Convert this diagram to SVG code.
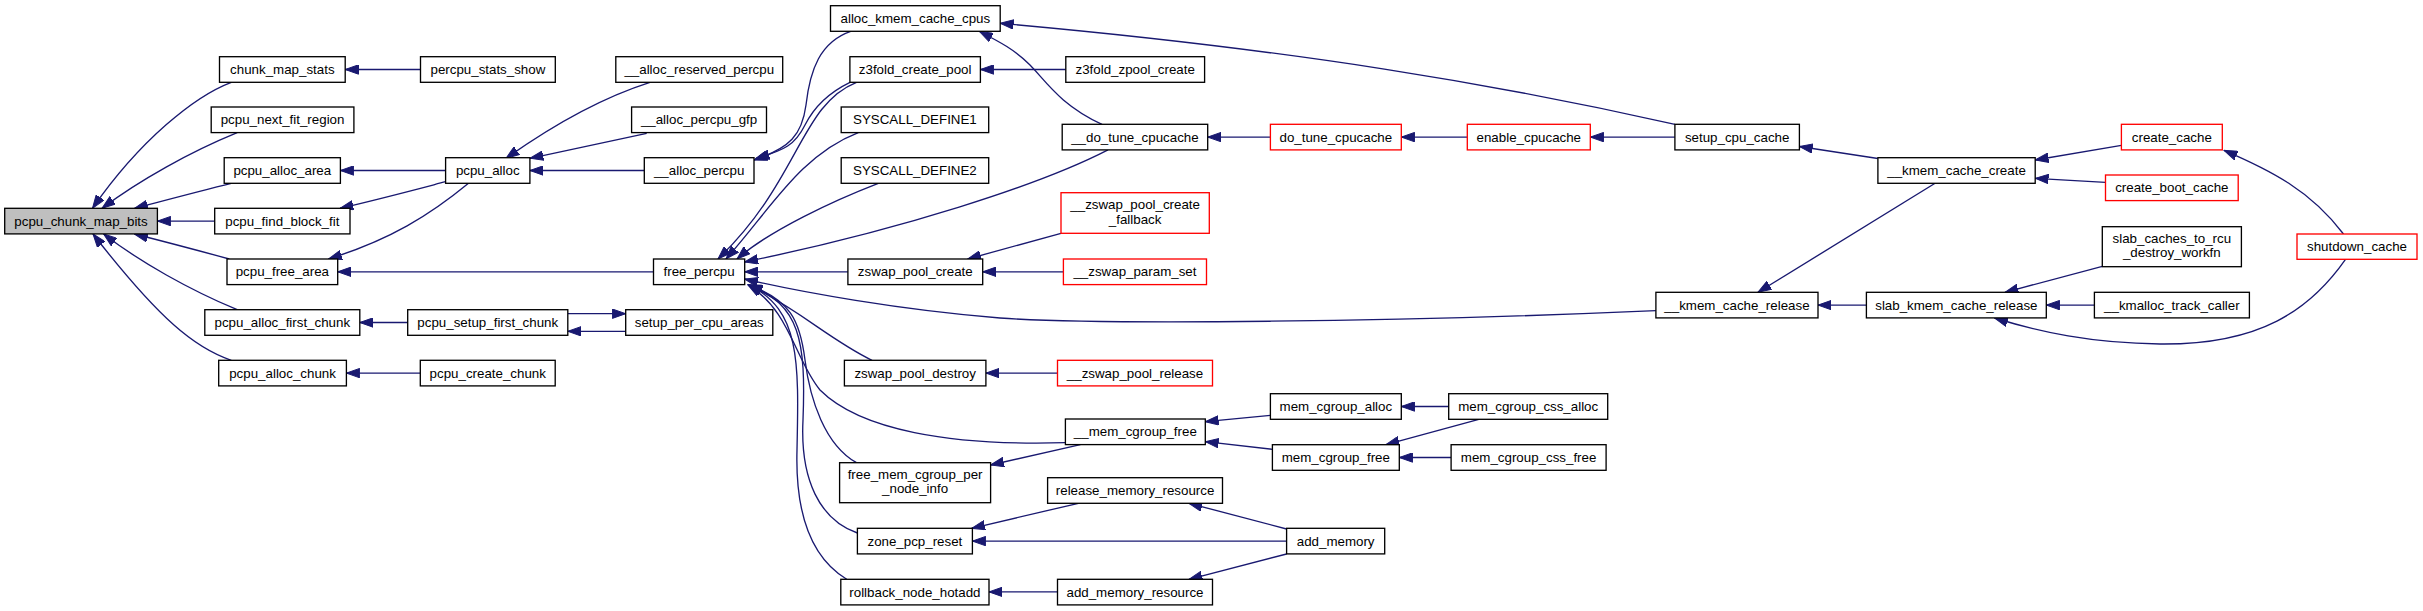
<svg xmlns="http://www.w3.org/2000/svg" width="2423" height="611" viewBox="0 0 2423 611">
<style>
.n rect{fill:#fff;stroke:#000;stroke-width:1.33}
.r rect{stroke:#ff0000}
.m rect{fill:#bfbfbf}
text{font-family:"Liberation Sans",Arial,Helvetica,sans-serif;font-size:13.33px;text-anchor:middle;fill:#000}
.e path{fill:none;stroke:#191970;stroke-width:1.33;marker-end:url(#a)}
</style>
<defs>
<marker id="a" markerUnits="userSpaceOnUse" viewBox="0 0 14 10" refX="13.3" refY="5" markerWidth="14" markerHeight="10" orient="auto">
<path d="M0,0.3 L13.3,5 L0,9.7 z" fill="#191970" stroke="#191970" stroke-width="1"/>
</marker>
</defs>
<rect width="2423" height="611" fill="#fff"/>
<g id="edges" class="e">
<path d="M231.3,82.3 C195,96 140,140 92.5,208.3"/>
<path d="M237.2,132.7 C190,152 140,180 102,208.3"/>
<path d="M231.3,183.3 C200,191 170,199 134.5,208.3"/>
<path d="M214.7,221.1 L157.4,221.1"/>
<path d="M229.3,259 C200,251 170,243 134.5,234"/>
<path d="M237.2,309.7 C190,290 140,262 103.6,234"/>
<path d="M231.3,360.3 C195,348 160,320 93,234"/>
<path d="M420.5,69.5 L345.2,69.5"/>
<path d="M445.6,170.5 L340.4,170.5"/>
<path d="M445.6,181.7 C410,191 380,199 340,208.3"/>
<path d="M468.5,183.3 C430,215 390,240 328.5,259"/>
<path d="M653.5,271.8 L337.7,271.8"/>
<path d="M407.7,322.5 L359.8,322.5"/>
<path d="M420.3,373.1 L346.4,373.1"/>
<path d="M567.8,313.7 L625.7,313.7"/>
<path d="M625.7,331.3 L567.8,331.3"/>
<path d="M650,82.3 C610,95 560,120 506,158.3"/>
<path d="M646.7,133.3 C610,141 570,150 530,158.3"/>
<path d="M644.3,170.5 L529.9,170.5"/>
<path d="M850.7,31.4 C820,42 810,70 806,105 C802,135 790,148 754,160"/>
<path d="M850,82.3 C830,92 815,105 805,125 C795,145 785,150 756,158.5"/>
<path d="M856.5,82.3 C800,105 800,180 718,259"/>
<path d="M858.3,132.6 C800,155 770,210 726,259"/>
<path d="M878.3,183.3 C835,200 770,230 737,259"/>
<path d="M1108,149.9 C1040,185 900,230 744.7,262"/>
<path d="M847.9,271.8 L744.7,271.8"/>
<path d="M1655.9,310.7 C1400,322 1100,325 1000,318 C900,310 800,292 744.7,279"/>
<path d="M872,360.3 C830,340 800,310 748,284.5"/>
<path d="M1065.4,442.7 C950,446 860,430 820,390 C795,360 790,310 748,285"/>
<path d="M856.5,462.7 C825,445 810,400 805,360 C800,320 790,300 749,285"/>
<path d="M857.4,533 C820,520 800,480 803,420 C806,340 800,305 749,285"/>
<path d="M846.7,579.3 C815,560 795,520 797,450 C799,360 800,310 749,285"/>
<path d="M1065.8,69.5 L980.4,69.5"/>
<path d="M1102,124.3 C1060,105 1045,80 1030,65 C1015,50 1000,42 979.5,31.5"/>
<path d="M1675,124.3 C1500,85 1300,50 1000.2,23.3"/>
<path d="M1270.4,137.1 L1207.7,137.1"/>
<path d="M1467.3,137.1 L1401.3,137.1"/>
<path d="M1674.9,137.1 L1590.3,137.1"/>
<path d="M1877.9,158.5 L1799.4,146.5"/>
<path d="M2121.4,145.3 L2035.2,160"/>
<path d="M2105.5,182.3 L2035.2,178.3"/>
<path d="M2343.5,234 C2310,190 2270,170 2224,150.3"/>
<path d="M2345.5,259.3 C2310,310 2260,345 2160,344 C2090,343 2040,332 1994.5,318"/>
<path d="M2102.3,266.3 L2005,292.3"/>
<path d="M2094.4,305.1 L2046.3,305.1"/>
<path d="M1866.4,305.1 L1818,305.1"/>
<path d="M1935.1,183.3 L1758,292.3"/>
<path d="M1061,233.3 L967.7,259"/>
<path d="M1063.4,271.8 L982.7,271.8"/>
<path d="M1057.5,373.1 L985.9,373.1"/>
<path d="M1270.4,415.3 L1205.3,421.7"/>
<path d="M1272.4,449.3 L1205.3,441.7"/>
<path d="M1448.7,406.5 L1401.3,406.5"/>
<path d="M1478.8,419.3 L1386,444.7"/>
<path d="M1451.1,457.5 L1399.3,457.5"/>
<path d="M1080.4,444.7 L990.6,465"/>
<path d="M1078.4,503.3 L971.7,528.3"/>
<path d="M1286.6,541.1 L972.4,541.1"/>
<path d="M1286.6,529 L1189,503.3"/>
<path d="M1286.6,554 L1189,579.3"/>
<path d="M1057.5,591.9 L989,591.9"/>
</g>
<g id="pcpu_chunk_map_bits" class="n m"><rect x="4.7" y="208.3" width="152.7" height="25.6"/><text x="81.05" y="225.7">pcpu_chunk_map_bits</text></g>
<g id="chunk_map_stats" class="n"><rect x="219.5" y="56.7" width="125.7" height="25.6"/><text x="282.35" y="74.1">chunk_map_stats</text></g>
<g id="pcpu_next_fit_region" class="n"><rect x="211.2" y="107" width="142.7" height="25.6"/><text x="282.55" y="124.4">pcpu_next_fit_region</text></g>
<g id="pcpu_alloc_area" class="n"><rect x="224.2" y="157.7" width="116.2" height="25.6"/><text x="282.3" y="175.1">pcpu_alloc_area</text></g>
<g id="pcpu_find_block_fit" class="n"><rect x="214.7" y="208.3" width="135.3" height="25.6"/><text x="282.35" y="225.7">pcpu_find_block_fit</text></g>
<g id="pcpu_free_area" class="n"><rect x="227" y="259" width="110.7" height="25.6"/><text x="282.35" y="276.4">pcpu_free_area</text></g>
<g id="pcpu_alloc_first_chunk" class="n"><rect x="204.8" y="309.7" width="155" height="25.6"/><text x="282.3" y="327.1">pcpu_alloc_first_chunk</text></g>
<g id="pcpu_alloc_chunk" class="n"><rect x="218.7" y="360.3" width="127.7" height="25.6"/><text x="282.55" y="377.7">pcpu_alloc_chunk</text></g>
<g id="percpu_stats_show" class="n"><rect x="420.5" y="56.7" width="134.8" height="25.6"/><text x="487.9" y="74.1">percpu_stats_show</text></g>
<g id="pcpu_alloc" class="n"><rect x="445.6" y="157.7" width="84.3" height="25.6"/><text x="487.75" y="175.1">pcpu_alloc</text></g>
<g id="pcpu_setup_first_chunk" class="n"><rect x="407.7" y="309.7" width="160.1" height="25.6"/><text x="487.75" y="327.1">pcpu_setup_first_chunk</text></g>
<g id="pcpu_create_chunk" class="n"><rect x="420.3" y="360.3" width="134.9" height="25.6"/><text x="487.75" y="377.7">pcpu_create_chunk</text></g>
<g id="__alloc_reserved_percpu" class="n"><rect x="615.8" y="56.7" width="166.9" height="25.6"/><text x="699.25" y="74.1">__alloc_reserved_percpu</text></g>
<g id="__alloc_percpu_gfp" class="n"><rect x="631.6" y="107" width="134.9" height="25.6"/><text x="699.05" y="124.4">__alloc_percpu_gfp</text></g>
<g id="__alloc_percpu" class="n"><rect x="644.3" y="157.7" width="109.7" height="25.6"/><text x="699.15" y="175.1">__alloc_percpu</text></g>
<g id="free_percpu" class="n"><rect x="653.5" y="259" width="91.2" height="25.6"/><text x="699.1" y="276.4">free_percpu</text></g>
<g id="setup_per_cpu_areas" class="n"><rect x="625.7" y="309.7" width="147.1" height="25.6"/><text x="699.25" y="327.1">setup_per_cpu_areas</text></g>
<g id="alloc_kmem_cache_cpus" class="n"><rect x="830.5" y="5.7" width="169.7" height="25.6"/><text x="915.35" y="23.1">alloc_kmem_cache_cpus</text></g>
<g id="z3fold_create_pool" class="n"><rect x="849.9" y="56.7" width="130.5" height="25.6"/><text x="915.15" y="74.1">z3fold_create_pool</text></g>
<g id="SYSCALL_DEFINE1" class="n"><rect x="841.2" y="107" width="147.5" height="25.6"/><text x="914.95" y="124.4">SYSCALL_DEFINE1</text></g>
<g id="SYSCALL_DEFINE2" class="n"><rect x="841.2" y="157.7" width="147.5" height="25.6"/><text x="914.95" y="175.1">SYSCALL_DEFINE2</text></g>
<g id="zswap_pool_create" class="n"><rect x="847.9" y="259" width="134.8" height="25.6"/><text x="915.3" y="276.4">zswap_pool_create</text></g>
<g id="zswap_pool_destroy" class="n"><rect x="844.4" y="360.3" width="141.5" height="25.6"/><text x="915.15" y="377.7">zswap_pool_destroy</text></g>
<g id="free_mem_cgroup_per_node_info" class="n"><rect x="839.6" y="462.7" width="151" height="40"/><text x="915.1" y="478.7">free_mem_cgroup_per</text><text x="915.1" y="493.2">_node_info</text></g>
<g id="zone_pcp_reset" class="n"><rect x="857.4" y="528.3" width="115" height="25.6"/><text x="914.9" y="545.7">zone_pcp_reset</text></g>
<g id="rollback_node_hotadd" class="n"><rect x="840.8" y="579.3" width="148.2" height="25.6"/><text x="914.9" y="596.7">rollback_node_hotadd</text></g>
<g id="z3fold_zpool_create" class="n"><rect x="1065.8" y="56.7" width="138.8" height="25.6"/><text x="1135.2" y="74.1">z3fold_zpool_create</text></g>
<g id="__do_tune_cpucache" class="n"><rect x="1062.2" y="124.3" width="145.5" height="25.6"/><text x="1134.95" y="141.7">__do_tune_cpucache</text></g>
<g id="__zswap_pool_create_fallback" class="n r"><rect x="1061" y="192.7" width="148.3" height="40.6"/><text x="1135.15" y="209">__zswap_pool_create</text><text x="1135.15" y="223.5">_fallback</text></g>
<g id="__zswap_param_set" class="n r"><rect x="1063.4" y="259" width="143.1" height="25.6"/><text x="1134.95" y="276.4">__zswap_param_set</text></g>
<g id="__zswap_pool_release" class="n r"><rect x="1057.5" y="360.3" width="155" height="25.6"/><text x="1135" y="377.7">__zswap_pool_release</text></g>
<g id="__mem_cgroup_free" class="n"><rect x="1065.4" y="419" width="139.9" height="25.6"/><text x="1135.35" y="436.4">__mem_cgroup_free</text></g>
<g id="release_memory_resource" class="n"><rect x="1047.6" y="477.7" width="174.9" height="25.6"/><text x="1135.05" y="495.1">release_memory_resource</text></g>
<g id="add_memory_resource" class="n"><rect x="1057.5" y="579.3" width="155" height="25.6"/><text x="1135" y="596.7">add_memory_resource</text></g>
<g id="do_tune_cpucache" class="n r"><rect x="1270.4" y="124.3" width="130.9" height="25.6"/><text x="1335.85" y="141.7">do_tune_cpucache</text></g>
<g id="mem_cgroup_alloc" class="n"><rect x="1270.4" y="393.7" width="130.9" height="25.6"/><text x="1335.85" y="411.1">mem_cgroup_alloc</text></g>
<g id="mem_cgroup_free" class="n"><rect x="1272.4" y="444.7" width="126.9" height="25.6"/><text x="1335.85" y="462.1">mem_cgroup_free</text></g>
<g id="add_memory" class="n"><rect x="1286.6" y="528.3" width="98.1" height="25.6"/><text x="1335.65" y="545.7">add_memory</text></g>
<g id="enable_cpucache" class="n r"><rect x="1467.3" y="124.3" width="123" height="25.6"/><text x="1528.8" y="141.7">enable_cpucache</text></g>
<g id="mem_cgroup_css_alloc" class="n"><rect x="1448.7" y="393.7" width="159" height="25.6"/><text x="1528.2" y="411.1">mem_cgroup_css_alloc</text></g>
<g id="mem_cgroup_css_free" class="n"><rect x="1451.1" y="444.7" width="155" height="25.6"/><text x="1528.6" y="462.1">mem_cgroup_css_free</text></g>
<g id="setup_cpu_cache" class="n"><rect x="1674.9" y="124.3" width="124.5" height="25.6"/><text x="1737.15" y="141.7">setup_cpu_cache</text></g>
<g id="__kmem_cache_release" class="n"><rect x="1655.9" y="292.3" width="162.1" height="25.6"/><text x="1736.95" y="309.7">__kmem_cache_release</text></g>
<g id="__kmem_cache_create" class="n"><rect x="1877.9" y="157.7" width="157.3" height="25.6"/><text x="1956.55" y="175.1">__kmem_cache_create</text></g>
<g id="slab_kmem_cache_release" class="n"><rect x="1866.4" y="292.3" width="179.9" height="25.6"/><text x="1956.35" y="309.7">slab_kmem_cache_release</text></g>
<g id="create_cache" class="n r"><rect x="2121.4" y="124.3" width="100.9" height="25.6"/><text x="2171.85" y="141.7">create_cache</text></g>
<g id="create_boot_cache" class="n r"><rect x="2105.5" y="175" width="132.7" height="25.6"/><text x="2171.85" y="192.4">create_boot_cache</text></g>
<g id="slab_caches_to_rcu_destroy_workfn" class="n"><rect x="2102.3" y="226.7" width="139.1" height="40"/><text x="2171.85" y="242.7">slab_caches_to_rcu</text><text x="2171.85" y="257.2">_destroy_workfn</text></g>
<g id="__kmalloc_track_caller" class="n"><rect x="2094.4" y="292.3" width="155" height="25.6"/><text x="2171.9" y="309.7">__kmalloc_track_caller</text></g>
<g id="shutdown_cache" class="n r"><rect x="2297" y="234" width="120" height="25.3"/><text x="2357" y="251.4">shutdown_cache</text></g>
</svg>
